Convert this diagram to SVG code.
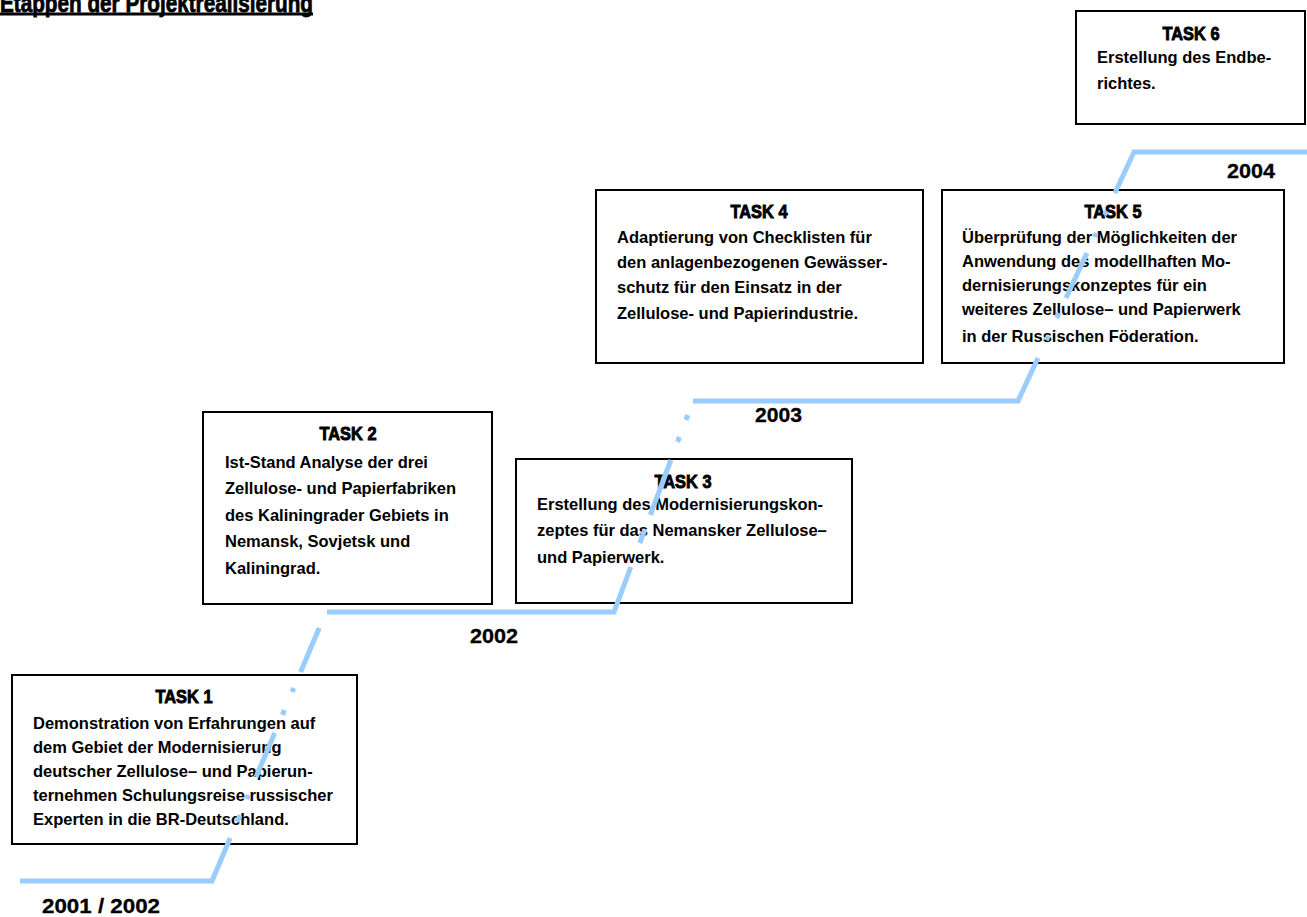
<svg xmlns="http://www.w3.org/2000/svg" width="1307" height="917" viewBox="0 0 1307 917">
<style>
.box{fill:#fff;stroke:#000;stroke-width:2}
.hd{font-family:"Liberation Sans",Arial,sans-serif;font-weight:bold;font-size:19px;fill:#000;stroke:#000;stroke-width:0.9;text-anchor:middle}
.bd{font-family:"Liberation Sans",Arial,sans-serif;font-weight:bold;font-size:16.5px;fill:#000}
.yr{font-family:"Liberation Sans",Arial,sans-serif;font-weight:bold;font-size:20px;fill:#000;stroke:#000;stroke-width:0.3}
.tl{font-family:"Liberation Sans",Arial,sans-serif;font-weight:bold;font-size:26px;fill:#000;stroke:#000;stroke-width:0.8}
.ln{fill:none;stroke:#99CCFF;stroke-width:5;stroke-linecap:butt;stroke-linejoin:miter}
</style>
<rect width="1307" height="917" fill="#fff"/>
<g id="title">
<text class="tl" x="0" y="11.5" textLength="313" lengthAdjust="spacingAndGlyphs">Etappen der Projektrealisierung</text>
<rect x="0" y="12.5" width="313" height="3" fill="#000"/>
</g>
<g id="task1">
<rect class="box" x="12" y="675" width="345" height="169"/>
<text class="hd" x="184" y="703" textLength="57" lengthAdjust="spacingAndGlyphs">TASK 1</text>
<text class="bd"><tspan x="33" y="729">Demonstration von Erfahrungen auf</tspan><tspan x="33" y="753">dem Gebiet der Modernisierung</tspan><tspan x="33" y="777">deutscher Zellulose– und Papierun-</tspan><tspan x="33" y="801">ternehmen Schulungsreise russischer</tspan><tspan x="33" y="825">Experten in die BR-Deutschland.</tspan></text>
</g>
<g id="task2">
<rect class="box" x="203" y="412" width="289" height="192"/>
<text class="hd" x="348" y="440" textLength="57" lengthAdjust="spacingAndGlyphs">TASK 2</text>
<text class="bd"><tspan x="225" y="468">Ist-Stand Analyse der drei</tspan><tspan x="225" y="494">Zellulose- und Papierfabriken</tspan><tspan x="225" y="521">des Kaliningrader Gebiets in</tspan><tspan x="225" y="547">Nemansk, Sovjetsk und</tspan><tspan x="225" y="574">Kaliningrad.</tspan></text>
</g>
<g id="task3">
<rect class="box" x="516" y="459" width="336" height="144"/>
<text class="hd" x="683" y="488" textLength="57" lengthAdjust="spacingAndGlyphs">TASK 3</text>
<text class="bd"><tspan x="537" y="510">Erstellung des Modernisierungskon-</tspan><tspan x="537" y="536">zeptes für das Nemansker Zellulose–</tspan><tspan x="537" y="563">und Papierwerk.</tspan></text>
</g>
<g id="task4">
<rect class="box" x="596" y="190" width="327" height="173"/>
<text class="hd" x="759" y="218" textLength="57" lengthAdjust="spacingAndGlyphs">TASK 4</text>
<text class="bd"><tspan x="617" y="243">Adaptierung von Checklisten für</tspan><tspan x="617" y="268">den anlagenbezogenen Gewässer-</tspan><tspan x="617" y="293">schutz für den Einsatz in der</tspan><tspan x="617" y="319">Zellulose- und Papierindustrie.</tspan></text>
</g>
<g id="task5">
<rect class="box" x="942" y="190" width="342" height="173"/>
<text class="hd" x="1113" y="218" textLength="57" lengthAdjust="spacingAndGlyphs">TASK 5</text>
<text class="bd"><tspan x="962" y="243">Überprüfung der Möglichkeiten der</tspan><tspan x="962" y="267">Anwendung des modellhaften Mo-</tspan><tspan x="962" y="291">dernisierungskonzeptes für ein</tspan><tspan x="962" y="315">weiteres Zellulose– und Papierwerk</tspan><tspan x="962" y="342">in der Russischen Föderation.</tspan></text>
</g>
<g id="task6">
<rect class="box" x="1076" y="11" width="229" height="113"/>
<text class="hd" x="1191" y="40" textLength="57" lengthAdjust="spacingAndGlyphs">TASK 6</text>
<text class="bd"><tspan x="1097" y="63">Erstellung des Endbe-</tspan><tspan x="1097" y="89">richtes.</tspan></text>
</g>
<g id="connectors">
<polyline class="ln" points="20,881 212,881 230.2,838"/>
<line class="ln" x1="237" y1="822" x2="240" y2="815"/>
<line class="ln" x1="246.8" y1="799" x2="248.4" y2="795"/>
<line class="ln" x1="256.1" y1="777" x2="274.7" y2="733"/>
<line class="ln" x1="282.4" y1="715" x2="284.5" y2="710"/>
<line class="ln" x1="292.1" y1="692" x2="293.8" y2="688"/>
<line class="ln" x1="300.6" y1="672" x2="319.2" y2="628"/>
<polyline class="ln" points="327,612 614,612 630.8,567"/>
<line class="ln" x1="639.8" y1="543" x2="644.7" y2="530"/>
<line class="ln" x1="650.3" y1="515" x2="670.9" y2="460"/>
<line class="ln" x1="677.6" y1="442" x2="679.5" y2="437"/>
<line class="ln" x1="685.9" y1="420" x2="687.8" y2="415"/>
<polyline class="ln" points="693,401 1018,401 1038,358"/>
<line class="ln" x1="1046.4" y1="340" x2="1048.3" y2="336"/>
<line class="ln" x1="1056.7" y1="318" x2="1059" y2="313"/>
<line class="ln" x1="1066" y1="298" x2="1087" y2="253"/>
<line class="ln" x1="1094.4" y1="237" x2="1096.3" y2="233"/>
<line class="ln" x1="1104.7" y1="215" x2="1106.5" y2="211"/>
<polyline class="ln" points="1114.9,193 1134,152 1307,152"/>
</g>
<g id="years">
<text class="yr" x="42" y="913" textLength="118" lengthAdjust="spacingAndGlyphs">2001 / 2002</text>
<text class="yr" x="470" y="643" textLength="48" lengthAdjust="spacingAndGlyphs">2002</text>
<text class="yr" x="755" y="422" textLength="47" lengthAdjust="spacingAndGlyphs">2003</text>
<text class="yr" x="1227" y="178" textLength="48" lengthAdjust="spacingAndGlyphs">2004</text>
</g>
</svg>
